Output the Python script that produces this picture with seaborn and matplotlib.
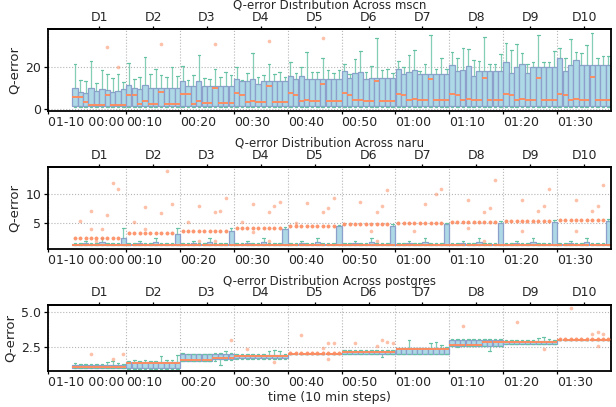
import numpy as np
import pandas as pd
import seaborn as sns
import matplotlib
matplotlib.use("Agg")
import matplotlib.pyplot as plt

# ---------------- data ----------------
segments = ["D1", "D2", "D3", "D4", "D5", "D6", "D7", "D8", "D9", "D10"]
time_labels = ["01-10 00:00", "00:10", "00:20", "00:30", "00:40",
               "00:50", "01:00", "01:10", "01:20", "01:30"]

# mscn: 10 segments x 10 boxes
mscn_lo = [1.0, 1.0, 1.0, 1.0, 1.0, 1.0, 1.0, 1.0, 1.0, 1.0]
mscn_q1 = [1.5, 1.6, 1.6, 1.6, 1.6, 1.6, 1.6, 1.6, 1.6, 1.6]
mscn_med = [
    [5.9, 5.8, 3.3, 1.9, 1.9, 1.9, 6.8, 1.9, 1.9, 1.9],
    [6.8, 6.8, 2.2, 3.6, 2.4, 2.4, 7.9, 2.4, 2.4, 2.4],
    [7.3, 7.0, 2.6, 3.9, 2.9, 2.9, 10.1, 2.9, 2.9, 2.9],
    [7.4, 6.8, 3.1, 3.9, 3.4, 3.4, 10.9, 3.4, 3.4, 3.4],
    [7.4, 6.8, 3.9, 4.2, 3.9, 3.9, 12.0, 3.9, 3.9, 3.9],
    [7.4, 6.7, 4.2, 4.2, 3.9, 3.9, 13.2, 3.9, 3.9, 3.9],
    [7.3, 6.7, 4.2, 4.5, 4.2, 4.2, 14.0, 4.2, 4.2, 4.2],
    [7.3, 6.7, 4.4, 4.7, 4.4, 4.4, 14.7, 4.4, 4.4, 4.4],
    [7.0, 6.5, 4.4, 4.7, 4.4, 4.4, 14.7, 4.4, 4.4, 4.4],
    [7.0, 6.5, 4.4, 4.7, 4.4, 4.4, 15.2, 4.4, 4.4, 4.4],
]
mscn_q3 = [
    [9.8, 7.9, 7.4, 9.8, 8.4, 9.3, 9.0, 7.9, 8.4, 9.3],
    [11.2, 9.8, 9.5, 11.2, 9.8, 9.8, 9.8, 9.8, 9.8, 9.8],
    [13.0, 11.0, 11.0, 13.0, 11.0, 11.0, 11.0, 11.0, 11.0, 11.0],
    [14.0, 13.0, 13.0, 14.0, 11.8, 13.0, 13.0, 13.0, 13.0, 13.0],
    [15.8, 14.0, 15.5, 14.0, 14.0, 14.0, 14.0, 14.0, 14.0, 14.0],
    [17.8, 14.7, 17.0, 17.5, 14.0, 14.7, 14.7, 14.7, 14.7, 14.7],
    [18.9, 16.7, 17.5, 18.6, 16.7, 16.7, 16.7, 16.7, 16.7, 16.7],
    [20.9, 17.8, 18.6, 20.2, 15.8, 18.1, 18.1, 18.1, 18.1, 18.1],
    [22.0, 17.0, 19.8, 21.4, 17.0, 19.8, 19.8, 19.8, 19.8, 19.8],
    [24.0, 17.8, 20.9, 22.9, 20.9, 20.9, 20.9, 20.9, 20.9, 20.9],
]
mscn_hi = [
    [21.4, 13.6, 13.0, 22.6, 12.1, 18.3, 16.4, 14.7, 16.4, 12.9],
    [21.5, 14.0, 15.0, 24.5, 16.7, 18.7, 16.0, 14.9, 19.8, 15.8],
    [20.4, 13.8, 16.0, 25.6, 14.5, 14.0, 18.8, 15.0, 17.5, 16.0],
    [20.0, 13.8, 17.0, 26.5, 15.0, 16.0, 21.0, 16.5, 17.5, 15.0],
    [22.0, 17.0, 19.8, 27.0, 17.5, 17.5, 24.0, 18.6, 17.0, 18.6],
    [21.4, 16.3, 23.6, 27.6, 17.5, 20.2, 33.3, 18.6, 18.9, 17.0],
    [22.5, 20.0, 25.3, 27.9, 18.0, 21.0, 34.9, 19.0, 24.0, 19.0],
    [27.0, 24.0, 28.7, 28.4, 23.3, 22.8, 34.1, 21.0, 21.0, 25.9],
    [31.0, 27.9, 30.7, 26.4, 21.0, 22.0, 34.9, 22.0, 22.0, 27.6],
    [29.0, 24.0, 32.9, 27.0, 26.4, 30.0, 35.7, 24.0, 25.0, 25.0],
]
mscn_flier_x = [6, 8, 16, 26, 36, 46]
mscn_flier_y = [29.3, 19.7, 30.8, 30.8, 32.2, 33.3]

# naru
naru_lo = [1.0, 1.0, 1.0, 1.0, 1.0, 1.0, 1.0, 1.0, 1.0, 1.0]
naru_q1 = [1.0, 1.0, 1.0, 1.0, 1.0, 1.0, 1.0, 1.0, 1.0, 1.0]
naru_med = [1.0, 1.0, 1.0, 1.0, 1.0, 1.0, 1.0, 1.0, 1.0, 1.0]
naru_q3 = [
    [1.25, 1.25, 1.5, 1.25, 1.25, 1.6, 1.25, 1.25, 1.25, 2.24],
    [1.25, 1.25, 1.5, 1.25, 1.25, 1.6, 1.25, 1.25, 1.25, 3.0],
    [1.25, 1.25, 1.5, 1.25, 1.25, 1.6, 1.25, 1.25, 1.25, 3.45],
    [1.25, 1.25, 1.5, 1.25, 1.25, 1.6, 1.25, 1.25, 1.25, 3.9],
    [1.25, 1.25, 1.5, 1.25, 1.25, 1.6, 1.25, 1.25, 1.25, 4.4],
    [1.25, 1.25, 1.5, 1.25, 1.25, 1.6, 1.25, 1.25, 1.25, 4.5],
    [1.25, 1.25, 1.5, 1.25, 1.25, 1.6, 1.25, 1.25, 1.25, 4.7],
    [1.25, 1.25, 1.5, 1.25, 1.25, 1.6, 1.25, 1.25, 1.25, 5.0],
    [1.25, 1.25, 1.5, 1.25, 1.25, 1.6, 1.25, 1.25, 1.25, 5.1],
    [1.25, 1.25, 1.5, 1.25, 1.25, 1.6, 1.25, 1.25, 1.25, 5.3],
]
naru_hi = [
    [1.45, 1.45, 1.8, 1.45, 1.45, 2.3, 1.45, 1.45, 1.45, 4.0],
    [1.45, 1.45, 1.8, 1.45, 1.45, 2.3, 1.45, 1.45, 1.45, 4.0],
    [1.45, 1.45, 1.8, 1.45, 1.45, 2.3, 1.45, 1.45, 1.45, 4.1],
    [1.45, 1.45, 1.8, 1.45, 1.45, 2.3, 1.45, 1.45, 1.45, 4.3],
    [1.45, 1.45, 1.8, 1.45, 1.45, 2.3, 1.45, 1.45, 1.45, 4.6],
    [1.45, 1.45, 1.8, 1.45, 1.45, 2.3, 1.45, 1.45, 1.45, 4.8],
    [1.45, 1.45, 1.8, 1.45, 1.45, 2.3, 1.45, 1.45, 1.45, 5.0],
    [1.45, 1.45, 1.8, 1.45, 1.45, 2.3, 1.45, 1.45, 1.45, 5.3],
    [1.45, 1.45, 1.8, 1.45, 1.45, 2.3, 1.45, 1.45, 1.45, 5.45],
    [1.45, 1.45, 1.8, 1.45, 1.45, 2.3, 1.45, 1.45, 1.45, 5.57],
]
naru_band = [2.24, 3.1, 3.55, 4.07, 4.45, 4.7, 4.9, 5.15, 5.3, 5.45]
naru_flier_x = [1, 3, 3, 5, 6, 7, 8, 11, 13, 13, 16, 17, 18, 21, 23, 26, 27, 28,
                31, 33, 33, 36, 37, 38, 41, 43, 46, 47, 48, 53, 55, 56, 57, 58,
                63, 65, 67, 68, 73, 73, 76, 77, 78, 83, 83, 86, 87, 88,
                93, 93, 96, 97, 98, 4, 23, 26, 36, 56, 76]
naru_flier_y = [5.3, 7.1, 3.8, 3.8, 6.4, 12.0, 11.0, 5.2, 7.7, 3.8, 6.7, 14.1, 8.3,
                5.2, 8.0, 6.9, 7.0, 9.3, 5.2, 8.3, 3.3, 6.9, 8.0, 8.7,
                5.0, 8.4, 6.9, 7.5, 9.3, 8.7, 3.5, 6.9, 8.0, 10.7,
                3.5, 8.3, 10.0, 11.0, 9.0, 4.0, 6.9, 7.6, 12.6,
                9.0, 3.5, 7.1, 8.0, 11.0, 9.0, 3.5, 7.0, 8.0, 11.6,
                1.75, 1.75, 1.8, 1.75, 1.8, 1.75]

# postgres
pg_lo = [
    [0.95, 0.95, 0.95, 0.95, 0.95, 0.95, 0.95, 0.95, 0.95, 0.95],
    [0.9, 0.9, 0.9, 0.9, 0.9, 0.9, 0.9, 0.9, 0.9, 0.9],
    [1.45, 1.45, 1.45, 1.45, 1.45, 1.45, 1.45, 1.16, 1.55, 1.55],
    [1.62, 1.62, 1.62, 1.62, 1.62, 1.62, 1.62, 1.62, 1.62, 1.62],
    [1.97, 1.97, 1.97, 1.97, 1.97, 1.97, 1.97, 1.97, 1.97, 1.97],
    [1.95, 1.95, 1.95, 1.95, 1.95, 1.95, 1.95, 1.77, 1.95, 1.95],
    [1.95, 1.95, 1.95, 1.95, 1.95, 1.95, 1.95, 1.95, 1.95, 1.95],
    [2.55, 2.5, 2.55, 2.55, 2.55, 2.55, 2.55, 2.2, 2.55, 2.55],
    [2.68, 2.68, 2.68, 2.68, 2.68, 2.68, 2.68, 2.68, 2.68, 2.68],
    [2.99, 2.99, 2.99, 2.99, 2.99, 2.99, 2.99, 2.99, 2.99, 2.99],
]
pg_q1 = [
    [0.97, 0.97, 0.97, 0.97, 0.97, 0.97, 0.97, 0.97, 0.97, 0.97],
    [0.93, 0.93, 0.93, 0.93, 0.93, 0.93, 0.93, 0.93, 0.93, 0.93],
    [1.48, 1.48, 1.48, 1.48, 1.48, 1.48, 1.6, 1.6, 1.6, 1.6],
    [1.65, 1.65, 1.65, 1.65, 1.65, 1.65, 1.65, 1.65, 1.65, 1.65],
    [1.97, 1.97, 1.97, 1.97, 1.97, 1.97, 1.97, 1.97, 1.97, 1.97],
    [1.97, 1.97, 1.97, 1.97, 1.97, 1.97, 1.97, 1.97, 1.97, 1.97],
    [1.97, 1.97, 1.97, 1.97, 1.97, 1.97, 1.97, 1.97, 1.97, 1.97],
    [2.57, 2.57, 2.57, 2.57, 2.57, 2.57, 2.57, 2.57, 2.57, 2.57],
    [2.7, 2.7, 2.7, 2.7, 2.7, 2.7, 2.7, 2.7, 2.7, 2.7],
    [2.99, 2.99, 2.99, 2.99, 2.99, 2.99, 2.99, 2.99, 2.99, 2.99],
]
pg_med = [
    [1.0, 1.0, 1.0, 1.0, 1.0, 1.0, 1.0, 1.0, 1.0, 1.0],
    [1.31, 1.31, 1.31, 1.31, 1.31, 1.31, 1.31, 1.31, 1.31, 1.31],
    [1.53, 1.53, 1.53, 1.53, 1.53, 1.53, 1.7, 1.7, 1.7, 1.7],
    [1.82, 1.82, 1.82, 1.82, 1.82, 1.82, 1.82, 1.82, 1.82, 1.82],
    [1.97, 1.97, 1.97, 1.97, 1.97, 1.97, 1.97, 1.97, 1.97, 1.97],
    [2.13, 2.13, 2.13, 2.13, 2.13, 2.13, 2.13, 2.13, 2.13, 2.13],
    [2.33, 2.33, 2.33, 2.33, 2.33, 2.33, 2.33, 2.33, 2.33, 2.33],
    [2.62, 2.62, 2.62, 2.62, 2.62, 2.62, 2.8, 2.8, 2.8, 2.8],
    [2.86, 2.86, 2.86, 2.86, 2.86, 2.86, 2.86, 2.86, 2.86, 2.86],
    [2.99, 2.99, 2.99, 2.99, 2.99, 2.99, 2.99, 2.99, 2.99, 2.99],
]
pg_q3 = [
    [1.13, 1.13, 1.13, 1.13, 1.13, 1.13, 1.13, 1.13, 1.13, 1.13],
    [1.36, 1.36, 1.36, 1.36, 1.36, 1.36, 1.36, 1.36, 1.36, 1.36],
    [1.97, 1.97, 1.97, 1.97, 1.97, 1.97, 1.93, 1.93, 1.93, 1.93],
    [1.89, 1.89, 1.89, 1.89, 1.89, 1.89, 1.89, 1.89, 1.89, 1.89],
    [1.97, 1.97, 1.97, 1.97, 1.97, 1.97, 1.97, 1.97, 1.97, 1.97],
    [2.2, 2.2, 2.2, 2.2, 2.2, 2.2, 2.2, 2.2, 2.2, 2.2],
    [2.37, 2.37, 2.37, 2.37, 2.37, 2.37, 2.37, 2.37, 2.37, 2.37],
    [2.99, 2.99, 2.99, 2.99, 2.99, 2.99, 2.99, 2.99, 2.99, 2.99],
    [2.94, 2.94, 2.94, 2.94, 2.94, 2.94, 2.94, 2.94, 2.94, 2.94],
    [2.99, 2.99, 2.99, 2.99, 2.99, 2.99, 2.99, 2.99, 2.99, 2.99],
]
pg_hi = [
    [1.3, 1.25, 1.25, 1.25, 1.25, 1.25, 1.35, 1.45, 1.3, 1.25],
    [1.45, 1.5, 1.45, 1.5, 1.45, 1.45, 1.8, 1.5, 1.55, 1.9],
    [2.0, 1.97, 1.97, 1.97, 1.97, 1.97, 2.06, 2.0, 2.18, 2.0],
    [1.95, 1.95, 1.95, 1.95, 1.95, 1.95, 2.18, 2.26, 2.2, 1.95],
    [1.97, 1.97, 1.97, 1.97, 1.97, 1.97, 1.97, 1.97, 1.97, 1.97],
    [2.25, 2.25, 2.26, 2.22, 2.22, 2.22, 2.25, 2.25, 2.22, 2.22],
    [2.4, 2.4, 2.99, 2.4, 2.4, 2.4, 2.74, 2.86, 2.62, 2.45],
    [3.03, 3.03, 3.03, 3.03, 3.03, 3.03, 3.03, 3.03, 3.03, 3.03],
    [2.98, 2.98, 2.98, 2.98, 2.98, 2.98, 3.1, 3.23, 3.05, 2.98],
    [2.99, 2.99, 2.99, 2.99, 2.99, 2.99, 2.99, 2.99, 2.99, 2.99],
]
pg_band_segments = [4, 9]
pg_band_values = [2.0, 3.02]
pg_flier_x = [3, 7, 9, 29, 32, 37, 42, 46, 47, 47, 48, 52, 56, 57, 58, 59,
              72, 82, 87, 92, 96, 97, 98, 97]
pg_flier_y = [1.97, 1.6, 1.97, 2.99, 2.3, 1.4, 3.35, 2.38, 2.79, 1.58, 2.74,
              2.74, 2.55, 2.99, 2.86, 2.74, 4.03, 4.27, 2.33, 5.29, 3.42, 3.59,
              3.42, 2.55]

# ---------------- styling ----------------
sns.set_theme(style="ticks")
plt.rcParams["font.family"] = ["DejaVu Sans"]
plt.rcParams["font.size"] = 9

BOX_FACE = "#add8e6"
BOX_EDGE = "#8da0cb"
WHISK = "#66c2a5"
ORANGE = "#fc8d62"


def per_box(v, s, b):
    x = v[s]
    return x[b] if isinstance(x, (list, tuple)) else x


def build_df(lo, q1, med, q3, hi):
    rows = []
    for s in range(10):
        for b in range(10):
            pos = s * 10 + b
            for val in (per_box(lo, s, b), per_box(q1, s, b), per_box(med, s, b),
                        per_box(q3, s, b), per_box(hi, s, b)):
                rows.append((pos, val))
    return pd.DataFrame(rows, columns=["pos", "val"])


def style_axes(ax, name, yticks, ylim, last, height_px):
    ax.set_xlim(-5, 99.5)
    ax.set_ylim(*ylim)
    ax.set_yticks(yticks)
    ax.set_yticklabels([f"{t:g}" if name != "postgres" else f"{t:.1f}" for t in yticks])
    bpos = [-5] + [9.5 + 10 * k for k in range(9)]
    ax.set_xticks(bpos)
    ax.set_xticklabels(time_labels, ha="left")
    ax.tick_params(axis="x", labelsize=9, length=2.5, width=0.9, pad=1.5, color="black")
    ax.tick_params(axis="y", labelsize=9, length=3, width=0.9, pad=2, color="black")
    ax.grid(True, linestyle=":", color="#b5b5b5", linewidth=0.8)
    ax.set_axisbelow(True)
    for sp in ax.spines.values():
        sp.set_color("black")
        sp.set_linewidth(1.3)
    ax.set_ylabel("Q-error", fontsize=9.5, labelpad=3)
    ax.set_xlabel("time (10 min steps)" if last else "", fontsize=9, labelpad=1)
    sec = ax.secondary_xaxis("top")
    sec.set_xticks([4.5 + 10 * k for k in range(10)])
    sec.set_xticklabels(segments)
    sec.tick_params(labelsize=9, length=2.5, width=0.9, pad=1.5, color="black")
    sec.spines["top"].set_linewidth(1.3)
    sec.spines["top"].set_color("black")
    ax.set_title(f"Q-error Distribution Across {name}", fontsize=8.5, pad=0,
                 y=1 + 20.5 / height_px)


def draw(ax, df, fx, fy):
    sns.boxplot(data=df, x="pos", y="val", native_scale=True, width=0.98,
                whis=(0, 100), showfliers=False, color=BOX_FACE, saturation=1,
                linecolor=BOX_EDGE, linewidth=0.9,
                whiskerprops=dict(color=WHISK, alpha=0.8),
                capprops=dict(color=WHISK),
                medianprops=dict(color=ORANGE, linewidth=1.4),
                ax=ax)
    sns.scatterplot(x=fx, y=fy, color=ORANGE, s=7, alpha=0.55, linewidth=0,
                    ax=ax, legend=False, zorder=3)


fig = plt.figure(figsize=(6.16, 4.07), dpi=100)
W, H = 616, 407
def rect(l, t, r, b):
    return [l / W, 1 - b / H, (r - l) / W, (b - t) / H]

ax1 = fig.add_axes(rect(48, 29.3, 611, 110.5))
ax2 = fig.add_axes(rect(48, 167.3, 611, 248.5))
ax3 = fig.add_axes(rect(48, 305, 611, 370.7))

# mscn
draw(ax1, build_df(mscn_lo, mscn_q1, mscn_med, mscn_q3, mscn_hi),
     mscn_flier_x, mscn_flier_y)
style_axes(ax1, "mscn", [0, 20], (-0.7, 37.6), False, 110.5 - 29.3)

# naru (band of near-identical outliers above each small box, drawn thrice for density)
band_x, band_y = [], []
for s in range(10):
    for b in range(9):
        for rep in range(3):
            band_x.append(s * 10 + b)
            band_y.append(naru_band[s])
draw(ax2, build_df(naru_lo, naru_q1, naru_med, naru_q3, naru_hi),
     naru_flier_x + band_x, naru_flier_y + band_y)
style_axes(ax2, "naru", [5, 10], (0.45, 14.75), False, 248.5 - 167.3)

# postgres
pg_bx, pg_by = [], []
for s, v in zip(pg_band_segments, pg_band_values):
    for b in range(10):
        for rep in range(3):
            pg_bx.append(s * 10 + b)
            pg_by.append(v)
draw(ax3, build_df(pg_lo, pg_q1, pg_med, pg_q3, pg_hi),
     pg_flier_x + pg_bx, pg_flier_y + pg_by)
style_axes(ax3, "postgres", [2.5, 5.0], (0.75, 5.52), True, 370.7 - 305)

fig.savefig("out.png", dpi=100)
